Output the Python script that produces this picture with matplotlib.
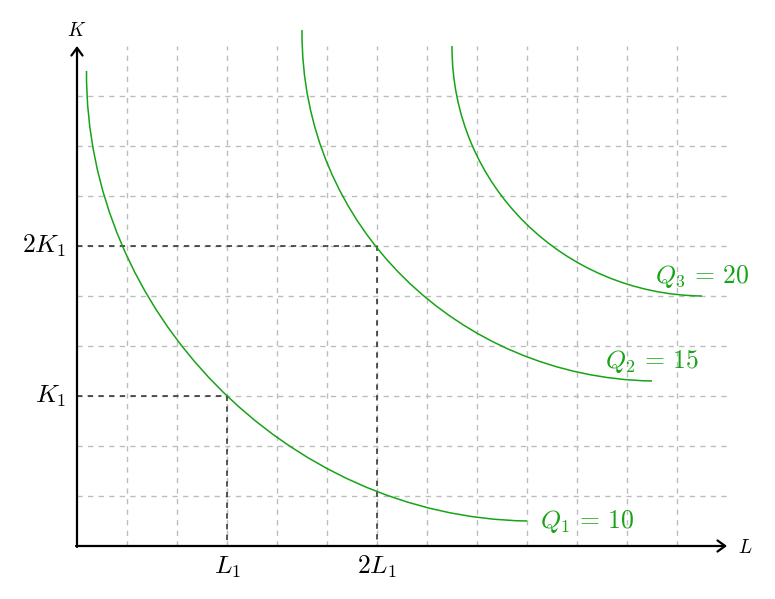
import numpy as np
import matplotlib
matplotlib.use("Agg")
import matplotlib.pyplot as plt
from matplotlib.path import Path
from matplotlib.patches import PathPatch

plt.rcParams['mathtext.fontset'] = 'cm'

# isoquants as cubic bezier curves: start, control 1, control 2, end
q1_pts = [(0.19, 9.5), (0.165, 4.68), (4.18, 0.58), (9.0, 0.5)]
q2_pts = [(4.5, 10.32), (4.47, 6.38), (7.65, 3.37), (11.5, 3.3)]
q3_pts = [(7.5, 10.0), (7.49, 7.2), (9.75, 5.03), (12.5, 5.0)]
q_labels = [r'$Q_1\,=\,10$', r'$Q_2\,=\,15$', r'$Q_3\,=\,20$']

# reference points
L1, K1 = 3, 3
x_ticks = [L1, 2 * L1]
x_ticklabels = [r'$L_1$', r'$2L_1$']
y_ticks = [K1, 2 * K1]
y_ticklabels = [r'$K_1$', r'$2K_1$']

xmax, ymax = 13, 10
green = '#17a317'
grid_col = '#bdbdbd'
fs = 18.5

fig = plt.figure(figsize=(7.75, 5.99), dpi=100)
ax = fig.add_axes([0, 0, 1, 1])
ax.set_xlim(-1.54, 13.96)
ax.set_ylim(-1.06, 10.92)
ax.axis('off')

# dashed help grid
for gx in range(1, xmax):
    ax.plot([gx, gx], [0, ymax], color=grid_col, lw=1.0, dashes=(3.8, 3.8), zorder=1)
for gy in range(1, ymax):
    ax.plot([0, xmax], [gy, gy], color=grid_col, lw=1.0, dashes=(3.8, 3.8), zorder=1)

# L1/K1 guide lines
for lx, ky in zip(x_ticks, y_ticks):
    ax.plot([0, lx, lx], [ky, ky, 0], color='#2a2a2a', lw=1.1, dashes=(3.5, 3.5), zorder=2)

# curves
codes = [Path.MOVETO, Path.CURVE4, Path.CURVE4, Path.CURVE4]
for pts in (q1_pts, q2_pts, q3_pts):
    ax.add_patch(PathPatch(Path(pts, codes), fc='none', ec=green, lw=1.1, zorder=3))

ax.text(q1_pts[-1][0] + 0.25, 0.36, q_labels[0], color=green, fontsize=fs, ha='left', va='baseline')
ax.text(q2_pts[-1][0], 3.56, q_labels[1], color=green, fontsize=fs, ha='center', va='baseline')
ax.text(q3_pts[-1][0], 5.26, q_labels[2], color=green, fontsize=fs, ha='center', va='baseline')

# axes
arrow = dict(arrowstyle='->,head_length=0.55,head_width=0.4', lw=1.6, color='k',
             shrinkA=0, shrinkB=0, mutation_scale=10)
ax.annotate('', xy=(xmax, 0), xytext=(-0.02, 0), arrowprops=arrow, zorder=4)
ax.annotate('', xy=(0, ymax), xytext=(0, -0.02), arrowprops=arrow, zorder=4)
ax.text(xmax + 0.22, -0.14, r'$L$', fontsize=14, ha='left', va='baseline')
ax.text(0, 10.2, r'$K$', fontsize=14, ha='center', va='baseline')

for xt, lab in zip(x_ticks, x_ticklabels):
    ax.text(xt, -0.55, lab, fontsize=fs, ha='center', va='baseline')
for yt, lab in zip(y_ticks, y_ticklabels):
    ax.text(-0.22, yt - 0.13, lab, fontsize=fs, ha='right', va='baseline')

fig.savefig('out.png', dpi=100)
